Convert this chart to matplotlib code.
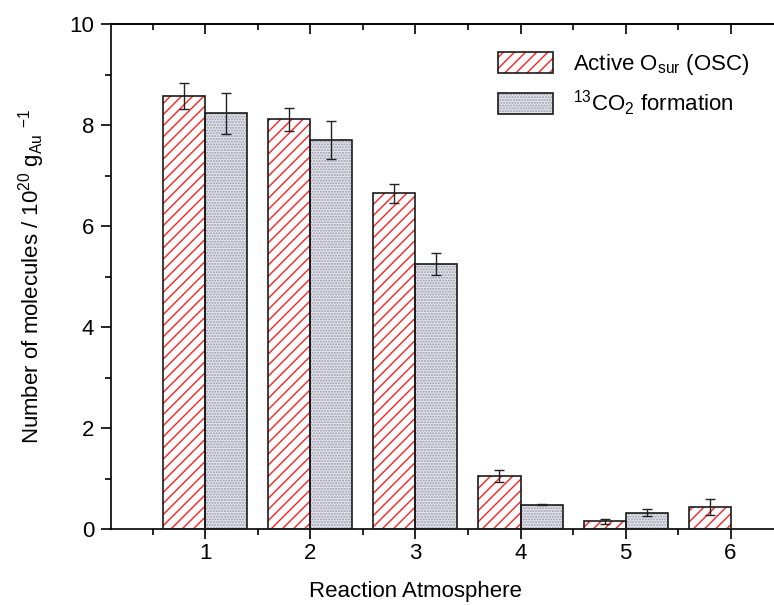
import matplotlib
matplotlib.use("Agg")
import matplotlib.pyplot as plt
from matplotlib.patches import Patch
from matplotlib.ticker import MultipleLocator
import numpy as np

plt.rcParams.update({
    "font.family": ["Liberation Sans", "DejaVu Sans"],
    "font.size": 16,
    "mathtext.default": "regular",
    "hatch.linewidth": 1.0,
})

# ── Data ──────────────────────────────────────────────────────────────────────
atmospheres = [1, 2, 3, 4, 5, 6]
osc_values = [8.58, 8.11, 6.65, 1.05, 0.15, 0.44]
osc_errors = [0.26, 0.22, 0.19, 0.11, 0.05, 0.16]
co2_values = [8.23, 7.70, 5.25, 0.48, 0.32, np.nan]
co2_errors = [0.40, 0.37, 0.22, 0.01, 0.07, np.nan]

# ── Style ─────────────────────────────────────────────────────────────────────
C_HATCH = "#ff2020"
C_GREY_FACE = "#e4e4ec"
C_GREY_DOT = "#9a9aaa"
C_EDGE = "#1a1a1a"
BAR_W = 0.4
FS = 16

fig = plt.figure(figsize=(7.74, 6.05), dpi=100)
ax = fig.add_axes([0.1434, 0.1256, 0.9225, 0.8347])

x = np.array(atmospheres, dtype=float)
x_osc = x - BAR_W / 2
x_co2 = x + BAR_W / 2

# red hatched bars (hatch drawn in red, outline drawn separately in black)
ax.bar(x_osc, osc_values, BAR_W, facecolor="white", edgecolor=C_HATCH,
       hatch="///", linewidth=0, zorder=2)
ax.bar(x_osc, osc_values, BAR_W, facecolor="none", edgecolor=C_EDGE,
       linewidth=1.2, zorder=3)

# grey dotted bars
ax.bar(x_co2, co2_values, BAR_W, facecolor=C_GREY_FACE, edgecolor=C_GREY_DOT,
       hatch="......", linewidth=0, zorder=2)
ax.bar(x_co2, co2_values, BAR_W, facecolor="none", edgecolor=C_EDGE,
       linewidth=1.2, zorder=3)

err_kw = dict(fmt="none", ecolor="#222222", elinewidth=1.0, capsize=3.5,
              capthick=1.0, zorder=4)
ax.errorbar(x_osc, osc_values, yerr=osc_errors, **err_kw)
ax.errorbar(x_co2, co2_values, yerr=co2_errors, **err_kw)

# ── Axes ──────────────────────────────────────────────────────────────────────
ax.set_xlim(0.1, 6.9)
ax.set_ylim(0, 10)
ax.xaxis.set_major_locator(MultipleLocator(1))
ax.xaxis.set_minor_locator(MultipleLocator(0.5))
ax.yaxis.set_major_locator(MultipleLocator(2))
ax.yaxis.set_minor_locator(MultipleLocator(1))
ax.set_xticks(atmospheres)

for s in ax.spines.values():
    s.set_linewidth(1.2)

ax.tick_params(axis="x", which="both", direction="out", bottom=True,
               top=False, width=1.2, labelsize=FS, pad=3)
ax.tick_params(axis="x", which="major", length=7)
ax.tick_params(axis="x", which="minor", length=4)
ax.tick_params(axis="y", which="both", direction="out", width=1.2,
               labelsize=FS, pad=5)
ax.tick_params(axis="y", which="major", length=7)
ax.tick_params(axis="y", which="minor", length=4)

# inward ticks on the top spine
top = ax.secondary_xaxis("top")
top.xaxis.set_major_locator(MultipleLocator(1))
top.xaxis.set_minor_locator(MultipleLocator(0.5))
top.tick_params(axis="x", which="both", direction="in", width=1.2,
                labeltop=False, colors="black")
top.tick_params(axis="x", which="major", length=7)
top.tick_params(axis="x", which="minor", length=4)
top.spines["top"].set_linewidth(1.2)

ax.set_xlabel("Reaction Atmosphere", fontsize=FS)
ax.xaxis.set_label_coords(0.427, -0.124)
ax.xaxis.label.set_va("center")
ax.set_ylabel(r"Number of molecules / 10$^{20}$ g$_{Au}$ $^{-1}$",
              fontsize=FS, labelpad=16)

# ── Legend ────────────────────────────────────────────────────────────────────
h_osc = (Patch(facecolor="white", edgecolor=C_HATCH, hatch="///", linewidth=0),
         Patch(facecolor="none", edgecolor=C_EDGE, linewidth=1.2))
h_co2 = (Patch(facecolor=C_GREY_FACE, edgecolor=C_GREY_DOT, hatch="......",
               linewidth=0),
         Patch(facecolor="none", edgecolor=C_EDGE, linewidth=1.2))
ax.legend([h_osc, h_co2],
          [r"Active O$_{sur}$ (OSC)", r"$^{13}$CO$_2$ formation"],
          loc="upper left", bbox_to_anchor=(0.530, 0.962), frameon=False,
          fontsize=FS, handlelength=2.45, handleheight=1.1,
          handletextpad=0.9, labelspacing=0.5, borderaxespad=0)

fig.savefig("out.png", dpi=100)
